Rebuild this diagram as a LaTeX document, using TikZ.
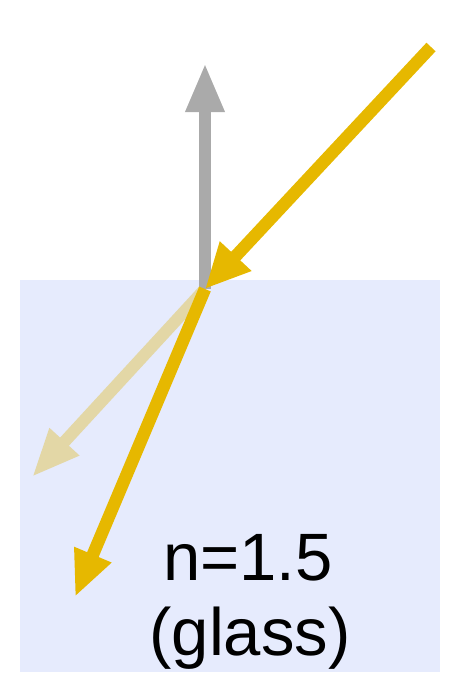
\documentclass[tikz,border=0pt]{standalone}
\usepackage{fontspec}
\setmainfont{Liberation Sans}
\usetikzlibrary{arrows.meta}
\definecolor{glassbg}{HTML}{E6EBFD}
\definecolor{rayyellow}{HTML}{E6B800}
\definecolor{raypale}{HTML}{E3D7A6}
\definecolor{normalgray}{HTML}{AAAAAA}
\begin{document}
\begin{tikzpicture}[x=1pt,y=-1pt,
  ray/.style={line width=12.5pt},
  lbl/.style={font=\fontsize{67}{75}\selectfont, anchor=base, inner sep=0pt}]
\useasboundingbox (0,0) rectangle (454,673);
\fill[glassbg] (20,280) rectangle (440,672);
\coordinate (O) at (205,289);
\coordinate (inc) at (431,47);
\coordinate (up) at (205,63);
\coordinate (refl) at (32,477);
\coordinate (refr) at (75,597);
\draw[ray, line width=12pt, raypale, -{Triangle[length=48pt,width=37pt]}] (O) -- (refl);
\draw[ray, line width=12pt, normalgray, -{Triangle[length=49pt,width=36pt]}] (O) -- (up);
\draw[ray, rayyellow, -{Triangle[length=46pt,width=37pt]}] (O) -- (refr);
\draw[ray, rayyellow, -{Triangle[length=45pt,width=40pt]}] (inc) -- (O);
\node[lbl] (n1) at (248,580) {n=1.5};
\node[lbl] (n2) at (250,655) {(glass)};
\end{tikzpicture}
\end{document}
